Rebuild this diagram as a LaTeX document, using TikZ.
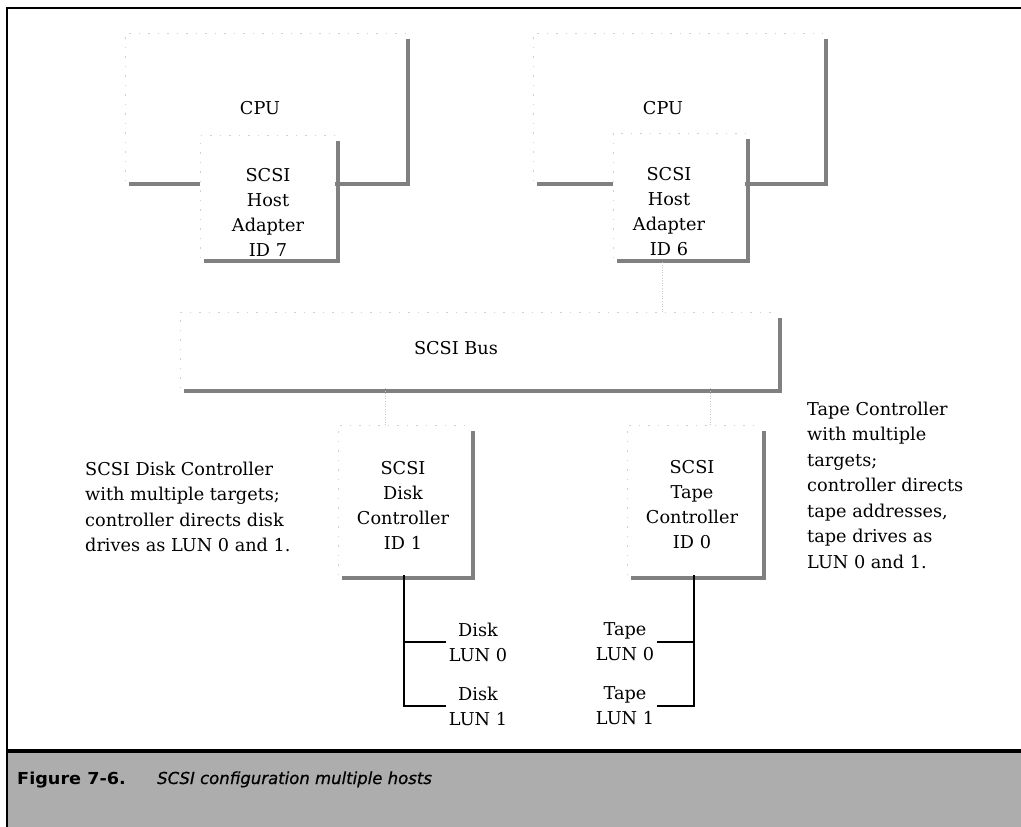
\documentclass[tikz,border=0pt]{standalone}
\usepackage{fontspec}
\setmainfont{DejaVu Serif}
\newfontfamily\capnumfont[FakeStretch=1.07]{DejaVu Sans}
\newfontfamily\capitfont[FakeBold=0.6]{DejaVu Sans}
\begin{document}
\begin{tikzpicture}[x=1pt,y=-1pt,
  boxnode/.style={draw=none, fill=white, inner sep=0pt, outer sep=0pt, anchor=north west},
  boxedge/.style={draw=black!18, line width=0.6pt, dash pattern=on 1.5pt off 8pt},
  shadowedge/.style={draw=black!50, line width=4.5pt},
  lbl/.style={font=\fontsize{17.7}{25}\selectfont, align=center, inner sep=0pt},
  note/.style={font=\fontsize{17.7}{25.5}\selectfont, align=left, inner sep=0pt, anchor=west},
  wire/.style={draw=black, line width=1.3pt},
  faint/.style={draw=black!22, line width=0.6pt, dotted},
  frameline/.style={draw=black, line width=2.5pt}
]
\useasboundingbox (0,0) rectangle (1021,827);
\newcommand\edgesof[1]{%
  \draw[boxedge] (#1.south west) -- (#1.north west) -- (#1.north east);
  \draw[shadowedge] ([shift={(3pt,-6pt)}]#1.north east) -- ([shift={(3pt,-3pt)}]#1.south east) -- ([shift={(4pt,-3pt)}]#1.south west);}

% outer frame and caption band
\fill[black!32] (8,752) rectangle (1021,827);
\draw[frameline] (7,827) -- (7,8) -- (1021,8);
\draw[line width=4pt] (7,751) -- (1021,751);

% host 1
\node[boxnode, minimum width=280pt, minimum height=148pt] (cpuA) at (125,33) {};
\edgesof{cpuA}
\node[boxnode, minimum width=135pt, minimum height=123pt] (hostA) at (200,135) {};
\edgesof{hostA}
% host 2
\node[boxnode, minimum width=290pt, minimum height=148pt] (cpuB) at (533,33) {};
\edgesof{cpuB}
\node[boxnode, minimum width=132pt, minimum height=125pt] (hostB) at (613,133) {};
\edgesof{hostB}
% bus
\node[boxnode, minimum width=597pt, minimum height=76pt] (bus) at (180,312) {};
\edgesof{bus}
% controllers
\node[boxnode, minimum width=132pt, minimum height=150pt] (disk) at (338,425) {};
\edgesof{disk}
\node[boxnode, minimum width=134pt, minimum height=150pt] (tape) at (627,425) {};
\edgesof{tape}

% faint links
\draw[faint] ([xshift=-17pt]hostB.south) ++(0,-4pt) -- ([xshift=-17pt]hostB.south |- bus.north);
\draw[faint] ([xshift=-19pt]disk.north) -- ([xshift=-19pt]disk.north |- bus.south);
\draw[faint] ([xshift=16pt]tape.north) -- ([xshift=16pt]tape.north |- bus.south);

% box texts
\node[lbl] (cpuAt) at (260,108) {CPU};
\node[lbl] (hostAt) at (268,212) {SCSI\\Host\\Adapter\\ID 7};
\node[lbl] (cpuBt) at (663,108) {CPU};
\node[lbl] (hostBt) at (669,212) {SCSI\\Host\\Adapter\\ID 6};
\node[lbl] (bust) at (456,348) {SCSI Bus};
\node[lbl] (diskt) at (403,505) {SCSI\\Disk\\Controller\\ID 1};
\node[lbl] (tapet) at (692,505) {SCSI\\Tape\\Controller\\ID 0};

% notes
\node[note] (noteL) at (85,507) {SCSI Disk Controller\\with multiple targets;\\controller directs disk\\drives as LUN 0 and 1.};
\node[note] (noteR) at (807,485) {Tape Controller\\with multiple\\targets;\\controller directs\\tape addresses,\\tape drives as\\LUN 0 and 1.};

% LUNs
\node[lbl] (diskL0) at (478,642) {Disk\\LUN 0};
\node[lbl] (diskL1) at (478,706) {Disk\\LUN 1};
\node[lbl] (tapeL0) at (625,642) {Tape\\LUN 0};
\node[lbl] (tapeL1) at (625,706) {Tape\\LUN 1};

\draw[wire] (disk.south) -- (disk.south |- diskL1.west) -- ([xshift=-3pt]diskL1.west);
\draw[wire] (disk.south |- diskL0.west) -- ([xshift=-3pt]diskL0.west);
\draw[wire] (tape.south) -- (tape.south |- tapeL1.east) -- ([xshift=3pt]tapeL1.east);
\draw[wire] (tape.south |- tapeL0.east) -- ([xshift=3pt]tapeL0.east);

% caption
\node[anchor=base west, inner sep=0pt, font={\capnumfont\bfseries\fontsize{16.5}{20}\selectfont}] (capnum) at (17,784) {Figure 7-6.};
\node[anchor=base west, inner sep=0pt, font={\capitfont\itshape\fontsize{16.5}{20}\selectfont}] (captext) at (157,784) {SCSI configuration multiple hosts};
\end{tikzpicture}
\end{document}
